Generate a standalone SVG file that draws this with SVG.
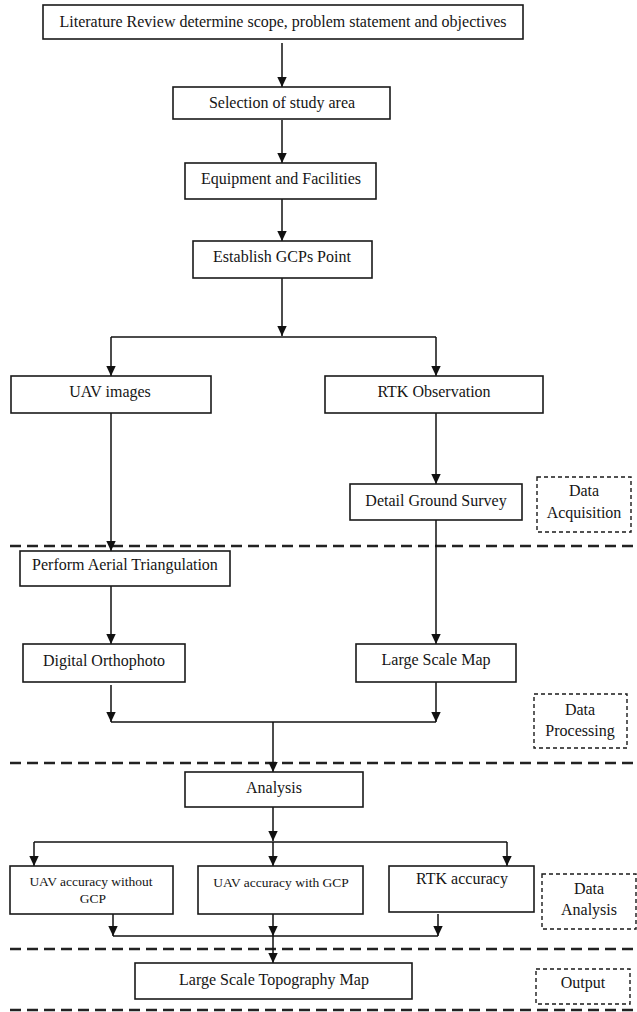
<svg xmlns="http://www.w3.org/2000/svg" width="637" height="1012" viewBox="0 0 637 1012">
<defs>
<marker id="arr" markerUnits="userSpaceOnUse" markerWidth="11" markerHeight="11" viewBox="0 0 11 11" refX="10" refY="5.5" orient="auto">
<path d="M0,0.8 L10,5.5 L0,10.2 z" fill="#111"/>
</marker>
<style>
.box{fill:#fff;stroke:#1a1a1a;stroke-width:1.6}
.lbl{fill:#fff;stroke:#1a1a1a;stroke-width:1.4;stroke-dasharray:4 3}
.t{font-family:"Liberation Serif","Times New Roman",serif;font-size:16px;fill:#151515;text-anchor:middle}
.s{font-size:13.5px}
.c{fill:none;stroke:#111;stroke-width:1.5}
.a{marker-end:url(#arr)}
.sep{fill:none;stroke:#222;stroke-width:2.5;stroke-dasharray:11 6}
</style>
</defs>
<rect width="637" height="1012" fill="#fff"/>

<g id="separators">
<line class="sep" x1="10" y1="546" x2="637" y2="546"/>
<line class="sep" x1="10" y1="763" x2="637" y2="763"/>
<line class="sep" x1="10" y1="949" x2="637" y2="949"/>
<line class="sep" x1="10" y1="1010" x2="637" y2="1010"/>
</g>

<g id="connectors">
<path class="c a" d="M282,43 V87"/>
<path class="c a" d="M282,120 V163"/>
<path class="c a" d="M282,199 V241"/>
<path class="c a" d="M282,278 V336"/>
<path class="c" d="M111,337 H436"/>
<path class="c a" d="M111,337 V376"/>
<path class="c a" d="M436,337 V376"/>
<path class="c a" d="M111,413 V551"/>
<path class="c a" d="M436,413 V484"/>
<path class="c a" d="M436,520 V644"/>
<path class="c a" d="M111,586 V644"/>
<path class="c a" d="M111,685 V722"/>
<path class="c a" d="M436,682 V722"/>
<path class="c" d="M111,722 H436"/>
<path class="c a" d="M273,722 V772"/>
<path class="c a" d="M273,807 V841"/>
<path class="c" d="M34,842 H507"/>
<path class="c a" d="M34,842 V866"/>
<path class="c a" d="M273,842 V866"/>
<path class="c a" d="M507,842 V866"/>
<path class="c a" d="M113,914 V936"/>
<path class="c a" d="M273,914 V936"/>
<path class="c a" d="M438,914 V936"/>
<path class="c" d="M113,936 H438"/>
<path class="c a" d="M273,936 V963"/>
</g>

<g id="n1"><rect class="box" x="43" y="5" width="480" height="34"/><text class="t" x="283" y="27">Literature Review determine scope, problem statement and objectives</text></g>
<g id="n2"><rect class="box" x="173" y="87" width="217" height="32"/><text class="t" x="282" y="108">Selection of study area</text></g>
<g id="n3"><rect class="box" x="185" y="163" width="191" height="36"/><text class="t" x="281" y="184">Equipment and Facilities</text></g>
<g id="n4"><rect class="box" x="193" y="241" width="179" height="37"/><text class="t" x="282" y="262">Establish GCPs Point</text></g>
<g id="n5"><rect class="box" x="11" y="376" width="200" height="37"/><text class="t" x="110" y="397">UAV images</text></g>
<g id="n6"><rect class="box" x="325" y="376" width="218" height="37"/><text class="t" x="434" y="397">RTK Observation</text></g>
<g id="n7"><rect class="box" x="350" y="484" width="172" height="36"/><text class="t" x="436" y="506">Detail Ground Survey</text></g>
<g id="n8"><rect class="box" x="20" y="551" width="210" height="35"/><text class="t" x="125" y="570">Perform Aerial Triangulation</text></g>
<g id="n9"><rect class="box" x="23" y="644" width="162" height="38"/><text class="t" x="104" y="666">Digital Orthophoto</text></g>
<g id="n10"><rect class="box" x="356" y="644" width="160" height="38"/><text class="t" x="436" y="665">Large Scale Map</text></g>
<g id="n11"><rect class="box" x="185" y="772" width="178" height="35"/><text class="t" x="274" y="793">Analysis</text></g>
<g id="n12"><rect class="box" x="10" y="866" width="163" height="48"/><text class="t s" x="91" y="886">UAV accuracy without</text><text class="t s" x="93" y="903">GCP</text></g>
<g id="n13"><rect class="box" x="198" y="866" width="165" height="48"/><text class="t s" x="281" y="887">UAV accuracy with GCP</text></g>
<g id="n14"><rect class="box" x="389" y="866" width="145" height="46"/><text class="t" x="462" y="884">RTK accuracy</text></g>
<g id="n15"><rect class="box" x="135" y="963" width="277" height="36"/><text class="t" x="274" y="985">Large Scale Topography Map</text></g>

<g id="lbl-acq"><rect class="lbl" x="537" y="477" width="94" height="55"/><text class="t" x="584" y="496">Data</text><text class="t" x="584" y="518">Acquisition</text></g>
<g id="lbl-proc"><rect class="lbl" x="534" y="694" width="93" height="54"/><text class="t" x="580" y="715">Data</text><text class="t" x="580" y="736">Processing</text></g>
<g id="lbl-ana"><rect class="lbl" x="542" y="874" width="94" height="55"/><text class="t" x="589" y="894">Data</text><text class="t" x="589" y="915">Analysis</text></g>
<g id="lbl-out"><rect class="lbl" x="536" y="969" width="94" height="35"/><text class="t" x="583" y="988">Output</text></g>
</svg>
